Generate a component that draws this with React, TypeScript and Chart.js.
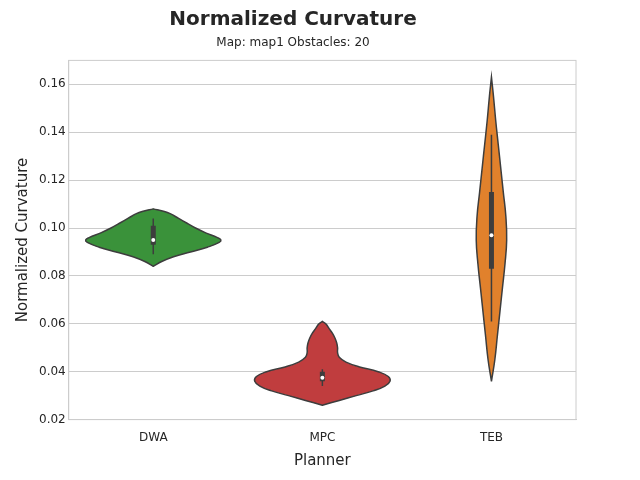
import React, { useRef, useEffect } from "react";
import { Chart, registerables } from "chart.js";

Chart.register(...registerables);

const categories = ["DWA", "MPC", "TEB"];
const colors = ["#3a923a", "#c03d3e", "#e1812c"];

// density outlines: y value and half width (in category units)
const dwaY = [0.084, 0.086, 0.088, 0.09, 0.092, 0.094, 0.095, 0.096, 0.098, 0.1, 0.102, 0.104, 0.106, 0.107, 0.108];
const dwaW = [0, 0.05, 0.12, 0.22, 0.32, 0.39, 0.4, 0.38, 0.31, 0.25, 0.2, 0.15, 0.1, 0.06, 0];
const mpcY = [0.026, 0.028, 0.03, 0.032, 0.034, 0.036, 0.038, 0.04, 0.042, 0.044, 0.046, 0.048, 0.05, 0.052, 0.054, 0.056, 0.058, 0.06, 0.061];
const mpcW = [0, 0.1, 0.2, 0.3, 0.37, 0.4, 0.39, 0.33, 0.22, 0.14, 0.1, 0.09, 0.09, 0.085, 0.075, 0.06, 0.04, 0.02, 0];
const tebY = [0.036, 0.045, 0.055, 0.065, 0.075, 0.085, 0.095, 0.105, 0.115, 0.125, 0.135, 0.145, 0.155, 0.163];
const tebW = [0, 0.02, 0.035, 0.05, 0.065, 0.08, 0.09, 0.085, 0.07, 0.055, 0.04, 0.025, 0.012, 0];

const whiskerLow = [0.089, 0.034, 0.061];
const q1 = [0.093, 0.036, 0.083];
const medians = [0.095, 0.0375, 0.097];
const q3 = [0.101, 0.04, 0.115];
const whiskerHigh = [0.104, 0.041, 0.139];

const profiles = [
  [dwaY, dwaW],
  [mpcY, mpcW],
  [tebY, tebW],
];

const frame = {
  id: "frame",
  afterDraw(chart: any) {
    const { ctx, chartArea: a } = chart;
    ctx.save();
    ctx.strokeStyle = "#cccccc";
    ctx.lineWidth = 1;
    ctx.strokeRect(a.left, a.top, a.right - a.left, a.bottom - a.top);
    ctx.restore();
  },
};

const App: React.FC = () => {
  const ref = useRef<HTMLCanvasElement>(null!);

  useEffect(() => {
    const datasets: any[] = [];
    profiles.forEach(([ys, ws], i) => {
      const right = ys.map((y, k) => ({ x: i + ws[k], y }));
      const left = ys.map((y, k) => ({ x: i - ws[k], y })).reverse();
      datasets.push({
        data: [...right, ...left],
        showLine: true,
        fill: "shape",
        backgroundColor: colors[i],
        borderColor: "#3d3d3d",
        borderWidth: 1.5,
        tension: 0.45,
        pointRadius: 0,
        order: 4,
      });
      datasets.push({
        data: [{ x: i, y: whiskerLow[i] }, { x: i, y: whiskerHigh[i] }],
        showLine: true,
        borderColor: "#3d3d3d",
        borderWidth: 1.5,
        pointRadius: 0,
        order: 3,
      });
      datasets.push({
        data: [{ x: i, y: q1[i] }, { x: i, y: q3[i] }],
        showLine: true,
        borderColor: "#3d3d3d",
        borderWidth: 5,
        pointRadius: 0,
        order: 2,
      });
      datasets.push({
        data: [{ x: i, y: medians[i] }],
        pointRadius: 2,
        pointBackgroundColor: "#ffffff",
        pointBorderWidth: 0,
        order: 1,
      });
    });

    const chart = new Chart(ref.current, {
      type: "scatter",
      data: { datasets },
      options: {
        animation: false,
        responsive: false,
        layout: { padding: { left: 10, right: 64, top: 0, bottom: 6 } },
        plugins: {
          legend: { display: false },
          tooltip: { enabled: false },
          title: {
            display: true,
            text: "Normalized Curvature",
            color: "#262626",
            font: { size: 20, weight: "bold", family: "DejaVu Sans" },
            padding: { top: 8, bottom: 4 },
          },
          subtitle: {
            display: true,
            text: "Map: map1 Obstacles: 20",
            color: "#262626",
            font: { size: 12, family: "DejaVu Sans" },
            padding: { bottom: 10 },
          },
        },
        scales: {
          x: {
            type: "linear",
            min: -0.5,
            max: 2.5,
            afterBuildTicks: (axis: any) => {
              axis.ticks = categories.map((_, i) => ({ value: i }));
            },
            ticks: {
              color: "#262626",
              font: { size: 12, family: "DejaVu Sans" },
              callback: (v: any) => categories[v] ?? "",
            },
            grid: { display: false },
            border: { color: "#cccccc" },
            title: {
              display: true,
              text: "Planner",
              color: "#262626",
              font: { size: 15, family: "DejaVu Sans" },
            },
          },
          y: {
            min: 0.02,
            max: 0.17,
            afterBuildTicks: (axis: any) => {
              axis.ticks = [0.02, 0.04, 0.06, 0.08, 0.1, 0.12, 0.14, 0.16].map((v) => ({ value: v }));
            },
            ticks: {
              color: "#262626",
              font: { size: 12, family: "DejaVu Sans" },
              callback: (v: any) => Number(v).toFixed(2),
            },
            grid: { color: "#cccccc", drawTicks: false },
            border: { color: "#cccccc" },
            title: {
              display: true,
              text: "Normalized Curvature",
              color: "#262626",
              font: { size: 15, family: "DejaVu Sans" },
            },
          },
        },
      },
      plugins: [frame],
    } as any);

    return () => chart.destroy();
  }, []);

  return (
    <div style={{ position: "absolute", left: 0, top: 0, width: 640, height: 480, background: "#fff" }}>
      <canvas ref={ref} width={640} height={480} />
    </div>
  );
};

export default App;
